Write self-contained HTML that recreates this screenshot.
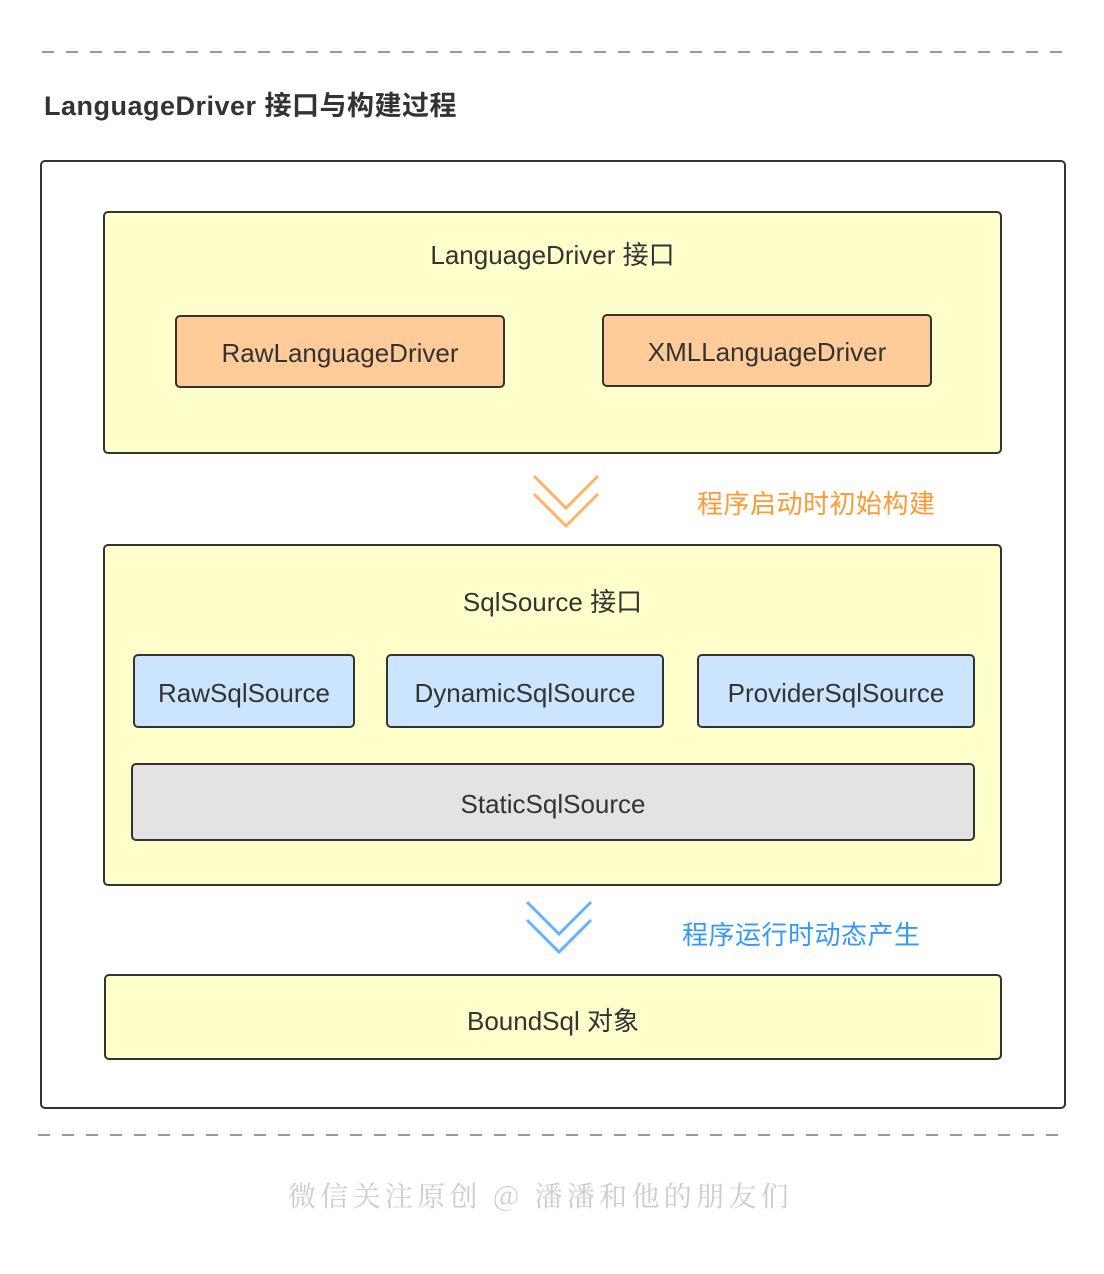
<!DOCTYPE html>
<html><head><meta charset="utf-8"><style>
body{margin:0;background:#fff;}
#c{position:relative;width:1104px;height:1274px;overflow:hidden;font-family:"Liberation Sans","Noto Sans CJK SC",sans-serif;color:#333;}
.b{position:absolute;box-sizing:border-box;border:2.5px solid #333;border-radius:5px;display:flex;align-items:center;justify-content:center;font-size:26px;}
.t{position:absolute;white-space:nowrap;}
.y{background:#ffffcc;}
.o{background:#ffcc99;}
.l{background:#cce5ff;}
.g{background:#e3e3e3;}
</style></head><body><div id="c">
<div class="t" style="left:44px;top:84px;font-size:27px;font-weight:bold;letter-spacing:0.5px;">LanguageDriver 接口与构建过程</div>
<div class="b" style="left:40px;top:160px;width:1026px;height:949px;background:#fff;"></div>
<div class="b y" style="left:103px;top:211px;width:899px;height:243px;align-items:flex-start;padding-top:22px;">LanguageDriver 接口</div>
<div class="b o" style="left:175px;top:315px;width:330px;height:73px;padding-top:4px;">RawLanguageDriver</div>
<div class="b o" style="left:602px;top:314px;width:330px;height:73px;padding-top:4px;">XMLLanguageDriver</div>
<div class="t" style="left:697px;top:484px;font-size:26px;color:#ff9933;letter-spacing:0.5px;">程序启动时初始构建</div>
<div class="b y" style="left:103px;top:544px;width:899px;height:342px;align-items:flex-start;padding-top:36px;">SqlSource 接口</div>
<div class="b l" style="left:133px;top:654px;width:222px;height:74px;padding-top:4px;">RawSqlSource</div>
<div class="b l" style="left:386px;top:654px;width:278px;height:74px;padding-top:4px;">DynamicSqlSource</div>
<div class="b l" style="left:697px;top:654px;width:278px;height:74px;padding-top:4px;">ProviderSqlSource</div>
<div class="b g" style="left:131px;top:763px;width:844px;height:78px;padding-top:4px;">StaticSqlSource</div>
<div class="t" style="left:682px;top:915px;font-size:26px;color:#3399ff;letter-spacing:0.5px;">程序运行时动态产生</div>
<div class="b y" style="left:104px;top:974px;width:898px;height:86px;padding-top:4px;">BoundSql 对象</div>
<div class="t" style="left:288px;top:1175px;font-size:28px;letter-spacing:4.3px;color:#ccc;font-family:'Noto Serif CJK SC',serif;">微信关注原创 @ 潘潘和他的朋友们</div>
<svg width="1104" height="1274" style="position:absolute;left:0;top:0">
<line x1="42" y1="52" x2="1064" y2="52" stroke="#999" stroke-width="2" stroke-dasharray="12 12"/>
<line x1="38" y1="1135" x2="1062" y2="1135" stroke="#999" stroke-width="2" stroke-dasharray="12 12"/>
<polyline points="534,476 566,508 598,476" fill="none" stroke="#ffb366" stroke-width="3"/>
<polyline points="534,494 566,526 598,494" fill="none" stroke="#ffb366" stroke-width="3"/>
<polyline points="527,902 559,934 591,902" fill="none" stroke="#66b2ff" stroke-width="3"/>
<polyline points="527,920 559,952 591,920" fill="none" stroke="#66b2ff" stroke-width="3"/>
</svg>
</div></body></html>
